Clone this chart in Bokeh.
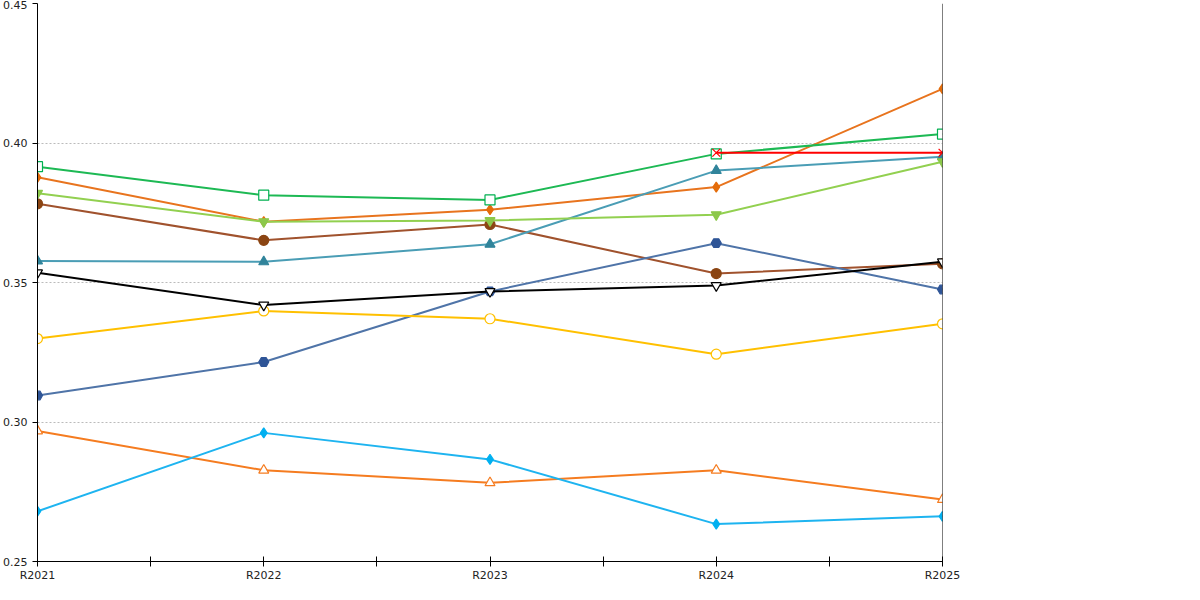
from bokeh.plotting import figure
from bokeh.models import FixedTicker, Legend, LegendItem, Span, NumeralTickFormatter, Range1d
from bokeh.embed import file_html
from bokeh.resources import INLINE

years = ["R2021", "R2022", "R2023", "R2024", "R2025"]
nan = float("nan")
s_do21 = [0.3877, 0.3718, 0.3761, 0.3842, 0.4194]
s_21_25 = [0.3782, 0.3651, 0.3708, 0.3532, 0.3567]
s_25_35 = [0.3577, 0.3574, 0.3637, 0.3901, 0.3951]
s_35_50 = [0.3095, 0.3215, 0.3468, 0.3641, 0.3475]
s_50_65 = [0.3820, 0.3718, 0.3722, 0.3743, 0.3933]
s_65_80 = [0.3915, 0.3813, 0.3796, 0.3961, 0.4032]
s_80_105 = [0.3299, 0.3398, 0.3370, 0.3243, 0.3352]
s_105 = [0.2968, 0.2827, 0.2782, 0.2827, 0.2722]
s_all = [0.3535, 0.3419, 0.3468, 0.3489, 0.3574]
s_vas = [nan, nan, nan, 0.3965, 0.3965]
s_vyb = [0.2680, 0.2961, 0.2866, 0.2634, 0.2662]

series = [
    ("do 21 000", s_do21, "#E8741E", "#E46C0A", "diamond", True),
    ("21 001 až 25 000", s_21_25, "#A0522D", "#8B4513", "circle", True),
    ("25 001 až 35 000", s_25_35, "#4A9DB5", "#31849B", "triangle", True),
    ("35 001 až 50 000", s_35_50, "#4F74A8", "#2F5597", "hex", True),
    ("50 001 až 65 000", s_50_65, "#92D050", "#8CC84B", "inverted_triangle", True),
    ("65 001 až 80 000", s_65_80, "#1DB954", "#00B050", "square", False),
    ("80 001 až 105 000", s_80_105, "#FFC000", "#FFC000", "circle", False),
    ("105 001 a více", s_105, "#F57C20", "#F57C20", "triangle", False),
    ("všechna města", s_all, "#000000", "#000000", "inverted_triangle", False),
    ("Údaje vašeho úřadu", s_vas, "#FF0000", "#FF0000", "x", False),
    ("Údaje vybraného úřadu", s_vyb, "#1EB4F0", "#00B0F0", "diamond", True),
]

xs = list(range(len(years)))
p = figure(width=1192, height=584, output_backend="svg", toolbar_location=None,
           x_range=Range1d(0, 4), y_range=Range1d(0.25, 0.45),
           min_border_left=31, min_border_right=250, min_border_top=3, min_border_bottom=13)
p.outline_line_color = None
p.xgrid.visible = False
p.ygrid.grid_line_color = "#BBBBBB"
p.ygrid.grid_line_dash = "2 2"

p.xaxis.ticker = FixedTicker(ticks=xs, minor_ticks=[0.5, 1.5, 2.5, 3.5])
p.xaxis.major_label_overrides = {i: y for i, y in enumerate(years)}
p.yaxis.ticker = FixedTicker(ticks=[0.25, 0.30, 0.35, 0.40, 0.45])
p.yaxis.formatter = NumeralTickFormatter(format="0.00")
p.yaxis.minor_tick_line_color = None
for ax in (p.xaxis, p.yaxis):
    ax.axis_line_color = "black"
    ax.major_tick_line_color = "black"
    ax.major_label_text_font = "DejaVu Sans"
    ax.major_label_text_font_size = "11px"
    ax.major_label_text_color = "#222222"
p.xaxis.major_tick_in = 5
p.xaxis.major_tick_out = 5
p.xaxis.minor_tick_in = 5
p.xaxis.minor_tick_out = 5
p.xaxis.minor_tick_line_color = "black"
p.xaxis.major_label_standoff = 2
p.yaxis.major_tick_in = 0
p.yaxis.major_tick_out = 5

p.add_layout(Span(location=4, dimension="height", line_color="black", line_width=1))

items = []
for name, vals, lc, mc, marker, filled in series:
    p.line(xs, vals, line_color=lc, line_width=2)
    r2 = p.scatter(xs, vals, marker=marker, size=10 if marker != "x" else 11,
                   line_color=mc, fill_color=mc if filled else "white",
                   line_width=1.2)
    items.append(LegendItem(label=name, renderers=[r2]))

legend = Legend(items=items, location=(996, 239), label_text_font="DejaVu Sans",
                label_text_font_size="12px", spacing=11, label_height=18,
                glyph_height=18, glyph_width=16, border_line_color="black",
                padding=6, margin=0, label_standoff=4)
p.add_layout(legend)
open("out.html", "w").write(file_html(p, INLINE))
